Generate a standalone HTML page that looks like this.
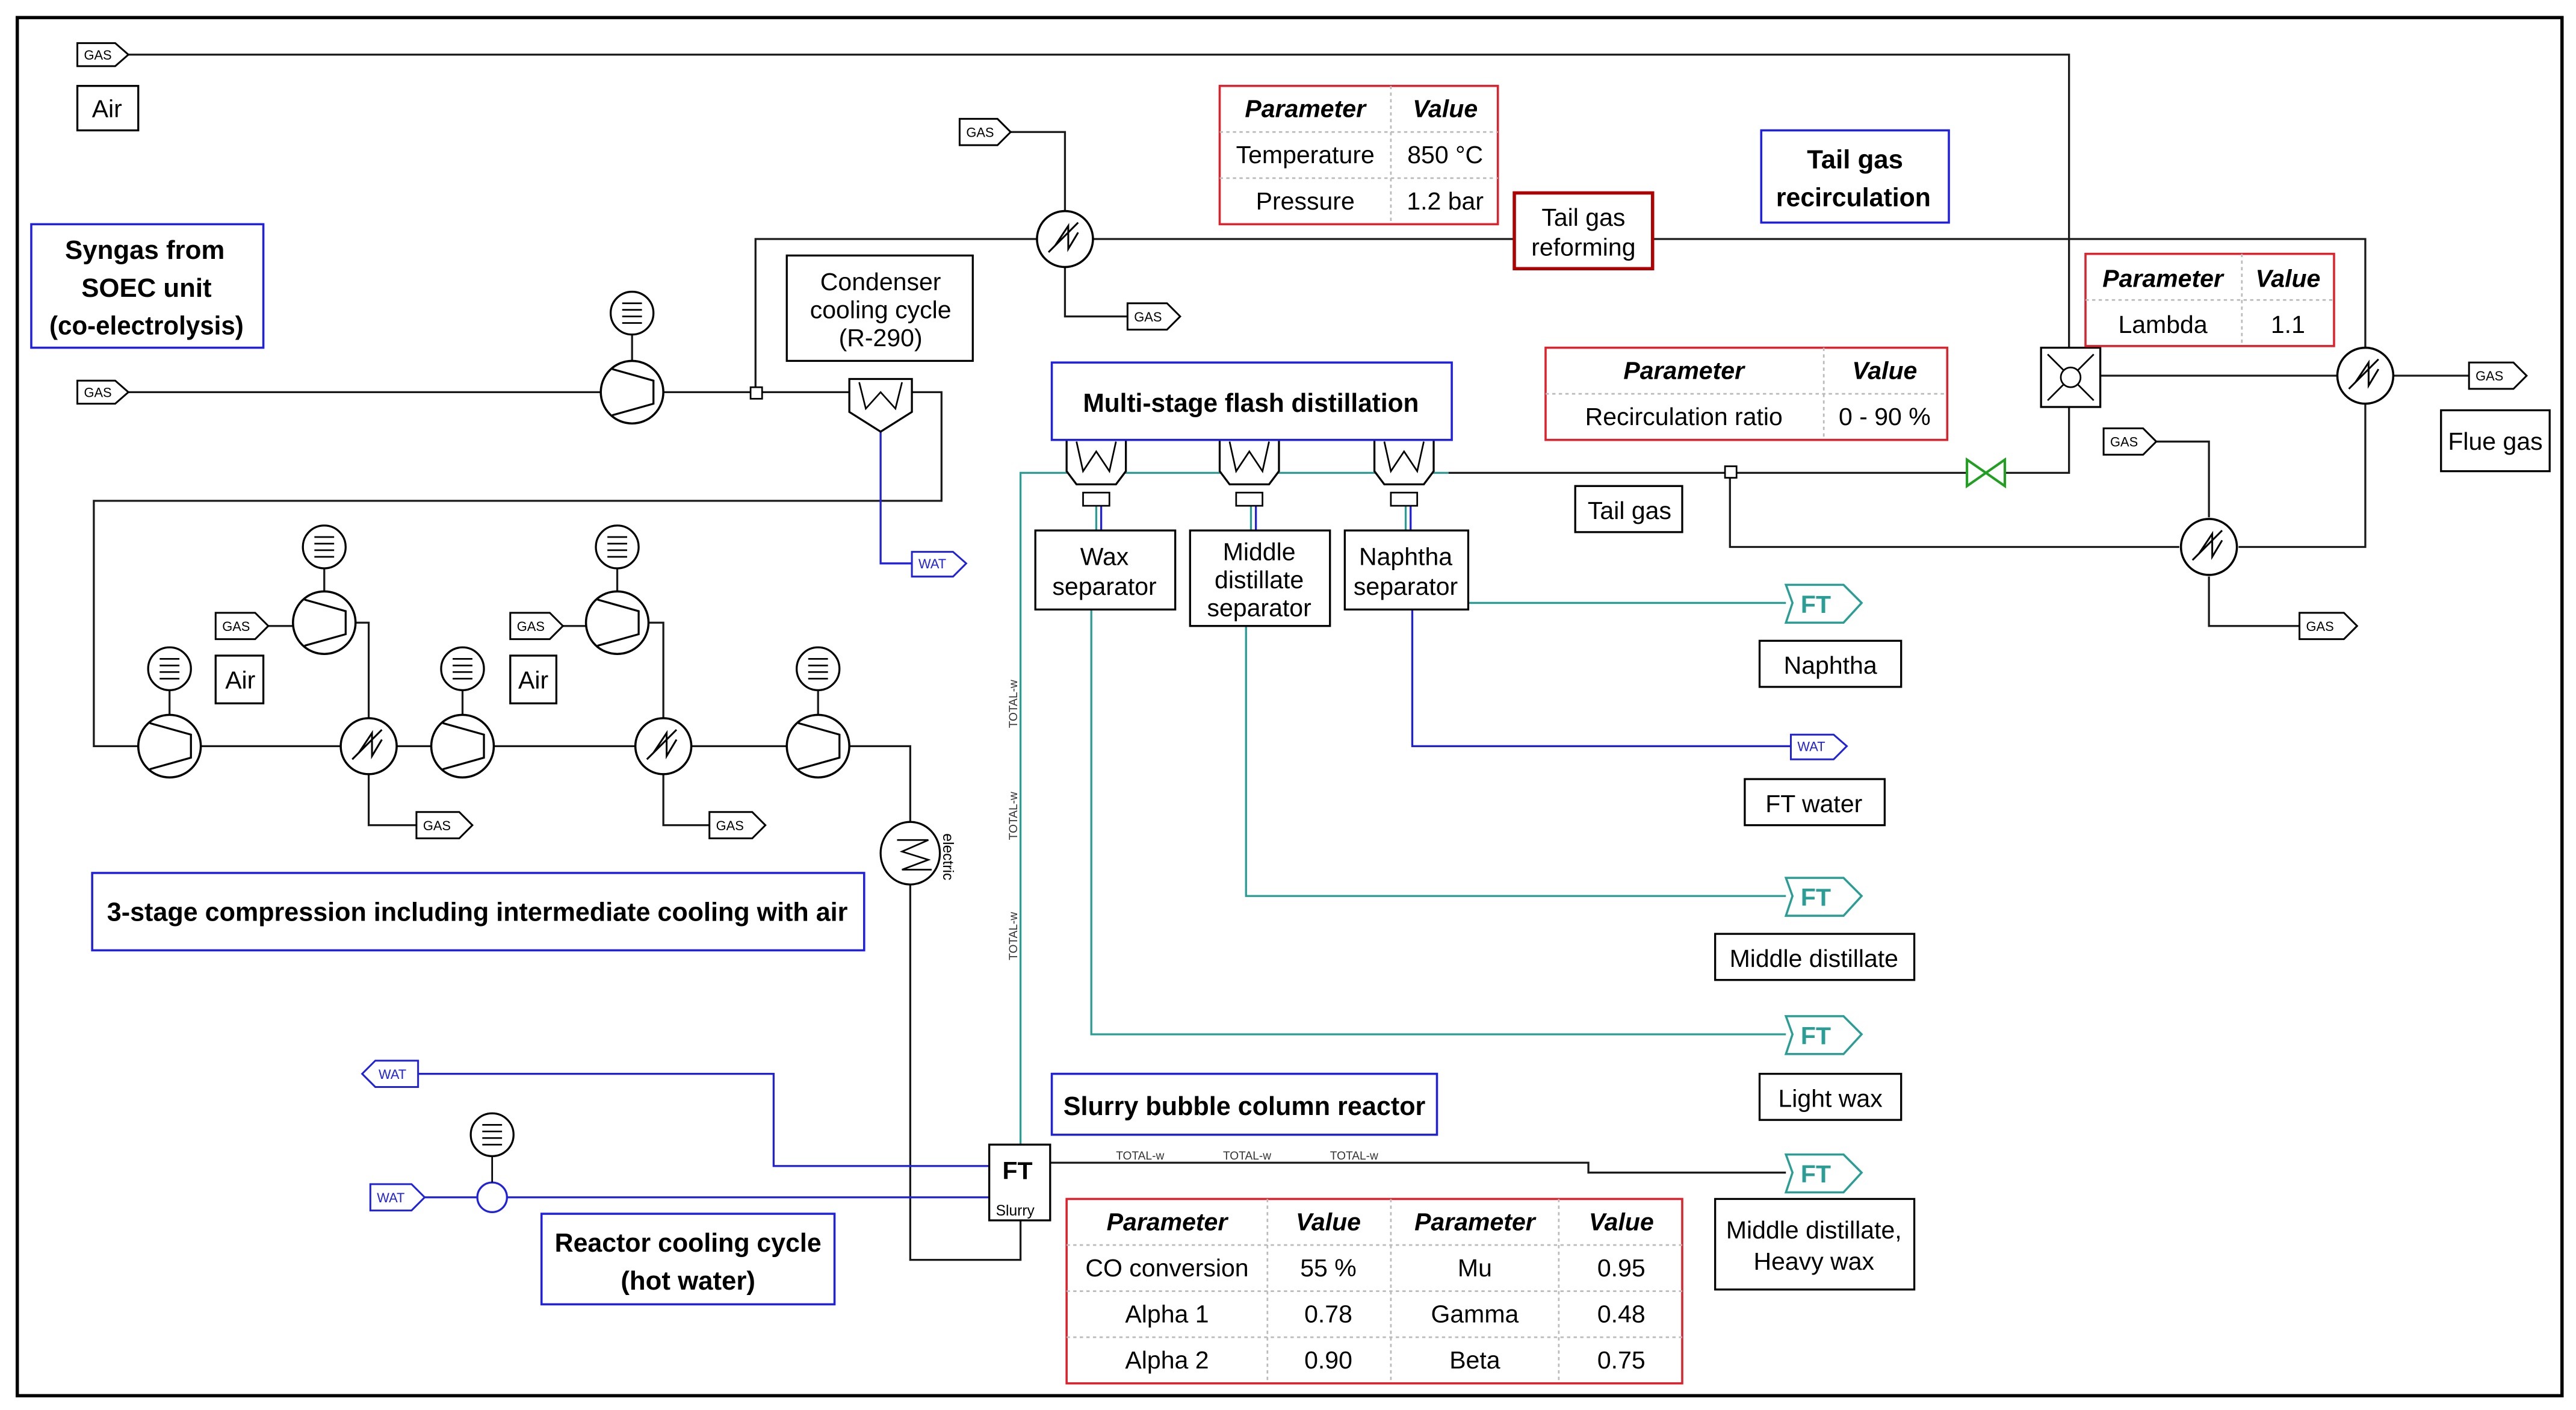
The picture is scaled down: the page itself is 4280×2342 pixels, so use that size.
<!DOCTYPE html>
<html><head><meta charset="utf-8"><style>
html,body{margin:0;padding:0;background:#fff}
svg{display:block}
text{font-family:"Liberation Sans",Arial,sans-serif}
</style></head><body>
<svg width="4280" height="2342" viewBox="0 0 1565 856" xmlns="http://www.w3.org/2000/svg">
<defs>
<g id="comp"><circle r="19" fill="#fff" stroke="#000" stroke-width="1.3"/><path d="M-12,-14 L13,-7 L13,7 L-12,14" fill="none" stroke="#000" stroke-width="1.2"/></g>
<g id="mot"><circle r="13" fill="#fff" stroke="#000" stroke-width="1.2"/><path d="M-6,-6 L6,-6 M-6,-2 L6,-2 M-6,2 L6,2 M-6,6 L6,6" stroke="#000" stroke-width="1"/></g>
<g id="hx"><circle r="17" fill="#fff" stroke="#000" stroke-width="1.3"/><path d="M-10,8 L8,-10 M-6,4 L2,-8 L2,6 L8,-4" fill="none" stroke="#000" stroke-width="1.1"/></g>
<g id="flash"><path d="M0,0 L36,0 L36,20 L30,28 L6,28 L0,20 Z" fill="#fff" stroke="#000" stroke-width="1.2"/><path d="M6,2 L10,20 L18,8 L26,20 L30,2" fill="none" stroke="#000" stroke-width="1"/><rect x="10" y="33" width="16" height="8" fill="#fff" stroke="#000"/></g>
</defs>
<rect x="0" y="0" width="1565" height="856" fill="#fff"/>
<rect x="10.5" y="10.5" width="1546" height="837" fill="none" stroke="#000" stroke-width="2"/>

<g fill="none" stroke="#1a1a1a" stroke-width="1.2">
<!-- top air line -->
<path d="M78,33 L1257,33 L1257,211"/>
<!-- upper gas hx -->
<path d="M614,80 L647,80 L647,128 M647,162 L647,192 L685,192"/>
<!-- line y=145 -->
<path d="M459,238 L459,145 L630,145 M664,145 L920,145 M1004,145 L1437,145 L1437,211"/>
<path d="M1276,228 L1420,228 M1454,228 L1500,228"/>
<!-- syngas -->
<path d="M78,238 L365,238 M403,238 L516,238 M384,203 L384,219"/>
<path d="M554,238 L572,238 L572,304 L57,304 L57,453 L84,453 M122,453 L207,453 M241,453 L262,453 M300,453 L386,453 M420,453 L478,453 M516,453 L553,453 L553,500 M553,536 L553,765 L620,765 L620,741"/>
<path d="M103,419 L103,434 M281,419 L281,434 M497,419 L497,434 M197,345 L197,359 M375,345 L375,359"/>
<path d="M163,380 L178,380 M216,378 L224,378 L224,436 M224,470 L224,501 L253,501"/>
<path d="M342,380 L356,380 M394,378 L403,378 L403,436 M403,470 L403,501 L431,501"/>
<!-- tail gas -->
<path d="M880,287 L1195,287 M1218,287 L1257,287 L1257,247"/>
<path d="M1051,287 L1051,332 L1324,332 M1360,332 L1437,332 L1437,245"/>
<path d="M1310,268 L1342,268 L1342,314 M1342,350 L1342,380 L1397,380"/>
<!-- reactor -->
<path d="M638,706 L965,706 L965,712 L1085,712"/>
</g>
<!-- teal lines -->
<g fill="none" stroke="#2a9d94" stroke-width="1.2">
<path d="M620,700 L620,287 L880,287"/>
<path d="M892,366 L1085,366"/>
<path d="M757,338 L757,544 L1085,544"/>
<path d="M663,370 L663,628 L1085,628"/>
<path d="M666,307 L666,322 M760,307 L760,322 M854,307 L854,322"/>
</g>
<!-- blue lines -->
<g fill="none" stroke="#2020e0" stroke-width="1.2">
<path d="M535,262 L535,342 L554,342"/>
<path d="M858,370 L858,453 L1088,453"/>
<path d="M254,652 L470,652 L470,708 L601,708"/>
<path d="M258,727 L290,727 M308,727 L601,727"/>
<path d="M669,307 L669,322 M763,307 L763,322 M857,307 L857,322"/>
</g>

<!-- equipment -->
<use href="#comp" x="384" y="238"/><use href="#mot" x="384" y="190"/>
<use href="#comp" x="103" y="453"/><use href="#mot" x="103" y="406"/>
<use href="#comp" x="281" y="453"/><use href="#mot" x="281" y="406"/>
<use href="#comp" x="497" y="453"/><use href="#mot" x="497" y="406"/>
<use href="#comp" x="197" y="378"/><use href="#mot" x="197" y="332"/>
<use href="#comp" x="375" y="378"/><use href="#mot" x="375" y="332"/>
<use href="#hx" x="224" y="453"/><use href="#hx" x="403" y="453"/>
<use href="#hx" x="647" y="145"/><use href="#hx" x="1437" y="228"/><use href="#hx" x="1342" y="332"/>
<rect x="456" y="235" width="7" height="7" fill="#fff" stroke="#000"/>
<rect x="1048" y="283" width="7" height="7" fill="#fff" stroke="#000"/>
<path d="M516,230 L554,230 L554,250 L535,262 L516,250 Z" fill="#fff" stroke="#000" stroke-width="1.2"/>
<path d="M522,232 L526,248 L535,238 L544,248 L548,232" fill="none" stroke="#000"/>
<use href="#flash" x="648" y="266"/><use href="#flash" x="741" y="266"/><use href="#flash" x="835" y="266"/>
<ellipse cx="553" cy="518" rx="18" ry="19" fill="#fff" stroke="#000" stroke-width="1.2"/>
<path d="M545,510 L564,510 L548,517 L564,522 L548,528 L566,528" fill="none" stroke="#000"/>
<text x="573" y="506" font-size="9" transform="rotate(90 573 506)">electric</text>
<rect x="1240" y="211" width="36" height="36" fill="#fff" stroke="#000" stroke-width="1.2"/>
<path d="M1244,215 L1272,243 M1272,215 L1244,243" stroke="#000"/><circle cx="1258" cy="229" r="6" fill="#fff" stroke="#000"/>
<path d="M1195,279 L1218,295 L1218,279 L1195,295 Z" fill="none" stroke="#20a020" stroke-width="1.5"/>
<circle cx="299" cy="727" r="9" fill="#fff" stroke="#2020e0" stroke-width="1.2"/><use href="#mot" x="299" y="689"/>
<path d="M299,702 L299,718" stroke="#000"/>
<rect x="601" y="695" width="37" height="46" fill="#fff" stroke="#000" stroke-width="1.2"/>
<text x="609" y="716" font-size="15" font-weight="bold">FT</text><text x="605" y="738" font-size="9">Slurry</text>

<!-- arrows -->
<g font-size="8" stroke-width="1.1">
<g fill="#fff" stroke="#000">
<path d="M47,26 L70,26 L78,33 L70,40 L47,40 Z"/><path d="M583,72 L606,72 L614,80 L606,88 L583,88 Z"/>
<path d="M685,184 L709,184 L717,192 L709,200 L685,200 Z"/><path d="M47,231 L70,231 L78,238 L70,245 L47,245 Z"/>
<path d="M131,372 L155,372 L163,380 L155,388 L131,388 Z"/><path d="M310,372 L334,372 L342,380 L334,388 L310,388 Z"/>
<path d="M253,493 L279,493 L287,501 L279,509 L253,509 Z"/><path d="M431,493 L457,493 L465,501 L457,509 L431,509 Z"/>
<path d="M1500,220 L1527,220 L1535,228 L1527,236 L1500,236 Z"/><path d="M1278,260 L1302,260 L1310,268 L1302,276 L1278,276 Z"/>
<path d="M1397,372 L1424,372 L1432,380 L1424,388 L1397,388 Z"/>
</g>
<g fill="#000"><text x="51" y="36">GAS</text><text x="587" y="83">GAS</text><text x="689" y="195">GAS</text><text x="51" y="241">GAS</text>
<text x="135" y="383">GAS</text><text x="314" y="383">GAS</text><text x="257" y="504">GAS</text><text x="435" y="504">GAS</text>
<text x="1504" y="231">GAS</text><text x="1282" y="271">GAS</text><text x="1401" y="383">GAS</text></g>
<g fill="#fff" stroke="#2020e0">
<path d="M554,335 L579,335 L587,342 L579,350 L554,350 Z"/><path d="M1088,446 L1114,446 L1122,453 L1114,461 L1088,461 Z"/>
<path d="M225,719 L250,719 L258,727 L250,735 L225,735 Z"/><path d="M254,644 L228,644 L220,652 L228,660 L254,660 Z"/>
</g>
<g fill="#2020e0"><text x="558" y="345">WAT</text><text x="1092" y="456">WAT</text><text x="229" y="730">WAT</text><text x="230" y="655">WAT</text></g>
<g fill="#fff" stroke="#2a9d94" stroke-width="1.3">
<path d="M1085,355 L1120,355 L1131,366 L1120,378 L1085,378 L1089,366 Z"/><path d="M1085,533 L1120,533 L1131,544 L1120,556 L1085,556 L1089,544 Z"/>
<path d="M1085,617 L1120,617 L1131,628 L1120,640 L1085,640 L1089,628 Z"/><path d="M1085,701 L1120,701 L1131,712 L1120,724 L1085,724 L1089,712 Z"/>
</g>
<g fill="#2a9d94" font-size="15" font-weight="bold"><text x="1094" y="372">FT</text><text x="1094" y="550">FT</text><text x="1094" y="634">FT</text><text x="1094" y="718">FT</text></g>
</g>
<g font-size="7" fill="#333"><text x="678" y="704">TOTAL-w</text><text x="743" y="704">TOTAL-w</text><text x="808" y="704">TOTAL-w</text>
<text transform="translate(618,442) rotate(-90)">TOTAL-w</text><text transform="translate(618,510) rotate(-90)">TOTAL-w</text><text transform="translate(618,583) rotate(-90)">TOTAL-w</text></g>

<!-- black label boxes -->
<g fill="#fff" stroke="#000" stroke-width="1.2">
<rect x="47" y="52" width="37" height="27"/><rect x="131" y="398" width="29" height="29"/><rect x="310" y="398" width="28" height="29"/>
<rect x="478" y="155" width="113" height="64"/><rect x="1483" y="249" width="66" height="37"/><rect x="957" y="295" width="65" height="28"/>
<rect x="629" y="322" width="85" height="48"/><rect x="723" y="322" width="85" height="58"/><rect x="817" y="322" width="75" height="48"/>
<rect x="1069" y="389" width="86" height="28"/><rect x="1060" y="473" width="85" height="28"/><rect x="1042" y="567" width="121" height="28"/>
<rect x="1069" y="652" width="86" height="28"/><rect x="1042" y="728" width="121" height="55"/>
</g>
<g font-size="15" fill="#000" text-anchor="middle">
<text x="65" y="71">Air</text><text x="146" y="418">Air</text><text x="324" y="418">Air</text>
<text x="535" y="176">Condenser</text><text x="535" y="193">cooling cycle</text><text x="535" y="210">(R-290)</text>
<text x="1516" y="273">Flue gas</text><text x="990" y="315">Tail gas</text>
<text x="671" y="343">Wax</text><text x="671" y="361">separator</text>
<text x="765" y="340">Middle</text><text x="765" y="357">distillate</text><text x="765" y="374">separator</text>
<text x="854" y="343">Naphtha</text><text x="854" y="361">separator</text>
<text x="1112" y="409">Naphtha</text><text x="1102" y="493">FT water</text><text x="1102" y="587">Middle distillate</text>
<text x="1112" y="672">Light wax</text><text x="1102" y="752">Middle distillate,</text><text x="1102" y="771">Heavy wax</text>
</g>

<!-- blue title boxes -->
<g fill="#fff" stroke="#2020e0" stroke-width="1.3">
<rect x="19" y="136" width="141" height="75"/><rect x="1070" y="79" width="114" height="56"/><rect x="639" y="220" width="243" height="47"/>
<rect x="56" y="530" width="469" height="47"/><rect x="639" y="652" width="234" height="37"/><rect x="329" y="737" width="178" height="55"/>
</g>
<g font-size="16" font-weight="bold" fill="#000" text-anchor="middle">
<text x="88" y="157" textLength="97" lengthAdjust="spacingAndGlyphs">Syngas from</text><text x="89" y="180">SOEC unit</text><text x="89" y="203" textLength="118" lengthAdjust="spacingAndGlyphs">(co-electrolysis)</text>
<text x="1127" y="102">Tail gas</text><text x="1126" y="125" textLength="94" lengthAdjust="spacingAndGlyphs">recirculation</text>
<text x="760" y="250" textLength="204" lengthAdjust="spacingAndGlyphs">Multi-stage flash distillation</text>
<text x="290" y="559" textLength="450" lengthAdjust="spacingAndGlyphs">3-stage compression including intermediate cooling with air</text>
<text x="756" y="677" textLength="220" lengthAdjust="spacingAndGlyphs">Slurry bubble column reactor</text>
<text x="418" y="760" textLength="162" lengthAdjust="spacingAndGlyphs">Reactor cooling cycle</text><text x="418" y="783">(hot water)</text>
</g>

<!-- red tables -->
<g fill="none" stroke="#e0202a" stroke-width="1.3">
<rect x="741" y="52" width="169" height="84"/><rect x="920" y="117" width="84" height="46" stroke="#b00000" stroke-width="2"/>
<rect x="1267" y="154" width="151" height="56"/><rect x="939" y="211" width="244" height="56"/><rect x="648" y="728" width="374" height="112"/>
</g>
<g stroke="#bbb" stroke-width="1" stroke-dasharray="2,2">
<path d="M741,80 L910,80 M741,108 L910,108 M845,52 L845,136"/>
<path d="M1267,182 L1418,182 M1362,154 L1362,210"/>
<path d="M939,239 L1183,239 M1108,211 L1108,267"/>
<path d="M648,756 L1022,756 M648,784 L1022,784 M648,812 L1022,812 M770,728 L770,840 M845,728 L845,840 M947,728 L947,840"/>
</g>
<g font-size="15" fill="#000" text-anchor="middle">
<text x="793" y="71" font-weight="bold" font-style="italic">Parameter</text><text x="878" y="71" font-weight="bold" font-style="italic">Value</text>
<text x="793" y="99">Temperature</text><text x="878" y="99">850 °C</text><text x="793" y="127">Pressure</text><text x="878" y="127">1.2 bar</text>
<text x="962" y="137">Tail gas</text><text x="962" y="155">reforming</text>
<text x="1314" y="174" font-weight="bold" font-style="italic">Parameter</text><text x="1390" y="174" font-weight="bold" font-style="italic">Value</text>
<text x="1314" y="202">Lambda</text><text x="1390" y="202">1.1</text>
<text x="1023" y="230" font-weight="bold" font-style="italic">Parameter</text><text x="1145" y="230" font-weight="bold" font-style="italic">Value</text>
<text x="1023" y="258">Recirculation ratio</text><text x="1145" y="258">0 - 90 %</text>
<text x="709" y="747" font-weight="bold" font-style="italic">Parameter</text><text x="807" y="747" font-weight="bold" font-style="italic">Value</text>
<text x="896" y="747" font-weight="bold" font-style="italic">Parameter</text><text x="985" y="747" font-weight="bold" font-style="italic">Value</text>
<text x="709" y="775">CO conversion</text><text x="807" y="775">55 %</text><text x="896" y="775">Mu</text><text x="985" y="775">0.95</text>
<text x="709" y="803">Alpha 1</text><text x="807" y="803">0.78</text><text x="896" y="803">Gamma</text><text x="985" y="803">0.48</text>
<text x="709" y="831">Alpha 2</text><text x="807" y="831">0.90</text><text x="896" y="831">Beta</text><text x="985" y="831">0.75</text>
</g>
</svg>
</body></html>
